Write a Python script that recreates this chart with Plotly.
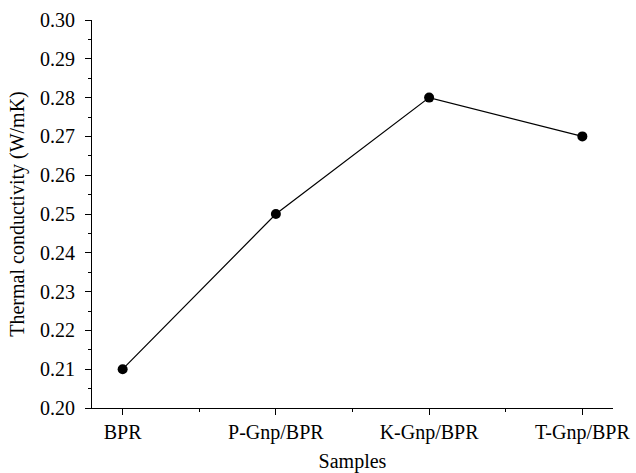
import plotly.graph_objects as go

categories = ["BPR", "P-Gnp/BPR", "K-Gnp/BPR", "T-Gnp/BPR"]
conductivity = [0.21, 0.25, 0.28, 0.27]
y_ticks = [0.20, 0.21, 0.22, 0.23, 0.24, 0.25, 0.26, 0.27, 0.28, 0.29, 0.30]

x_idx = list(range(len(categories)))
FONT = "Liberation Serif"

fig = go.Figure()
fig.add_trace(go.Scatter(
    x=x_idx, y=conductivity, mode="lines+markers",
    line=dict(color="black", width=1.2),
    marker=dict(color="black", size=10, symbol="circle"),
    showlegend=False,
))

fig.update_layout(
    width=636, height=473,
    margin=dict(l=92, r=23, t=20, b=65),
    paper_bgcolor="white", plot_bgcolor="white",
    font=dict(family=FONT, size=20, color="black"),
    xaxis=dict(
        range=[-0.2, 3.2], automargin=False,
        tickmode="array", tickvals=x_idx, ticktext=categories,
        ticks="outside", ticklen=6, tickwidth=1.2, tickcolor="black",
        ticklabelstandoff=0,
        showline=True, linecolor="black", linewidth=1.2,
        showgrid=False, zeroline=False,
        minor=dict(tickmode="array", tickvals=[0.5, 1.5, 2.5], ticks="outside",
                   ticklen=3, tickwidth=1.2, tickcolor="black", showgrid=False),
        title=dict(text="Samples", font=dict(family=FONT, size=20), standoff=22),
        tickfont=dict(family=FONT, size=20),
    ),
    yaxis=dict(
        range=[0.20, 0.30], automargin=False,
        tickmode="array", tickvals=y_ticks,
        ticktext=[f"{v:.2f}" for v in y_ticks],
        ticks="outside", ticklen=6, tickwidth=1.2, tickcolor="black",
        ticklabelstandoff=6,
        showline=True, linecolor="black", linewidth=1.2,
        showgrid=False, zeroline=False,
        minor=dict(tick0=0.205, dtick=0.01, ticks="outside",
                   ticklen=3, tickwidth=1.2, tickcolor="black", showgrid=False),
        title=dict(text="Thermal conductivity (W/mK)", font=dict(family=FONT, size=20), standoff=9),
        tickfont=dict(family=FONT, size=20),
    ),
)

fig.write_html("out.html")
